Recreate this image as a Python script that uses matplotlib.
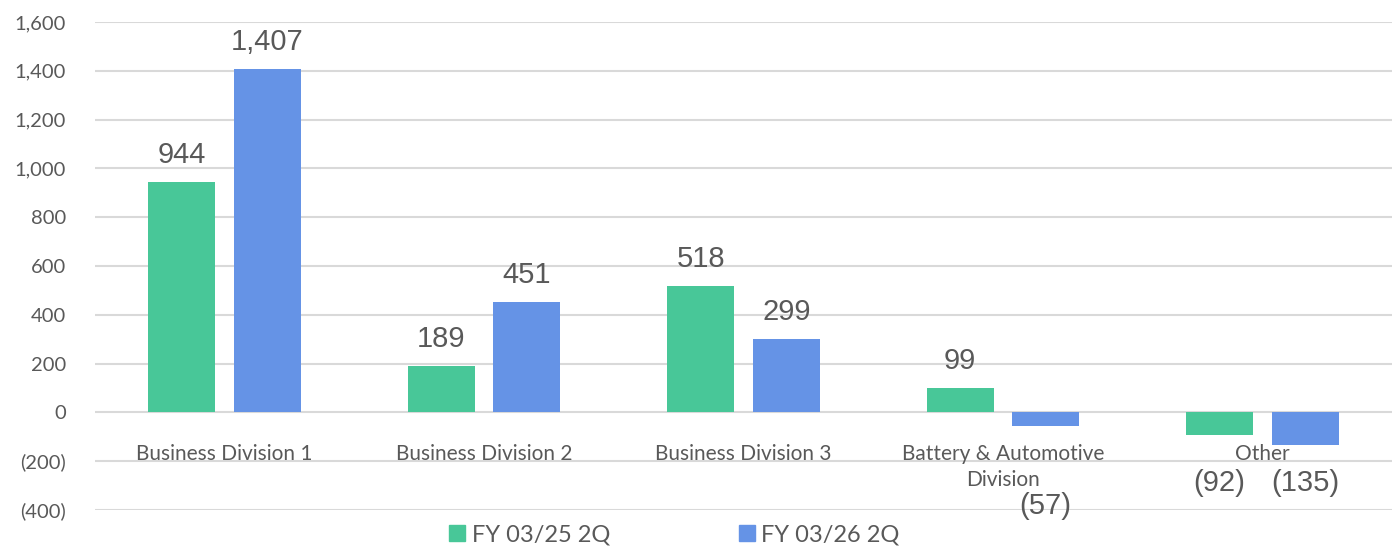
"""Segment profit by division, FY 03/25 2Q vs FY 03/26 2Q."""

import matplotlib
matplotlib.use("Agg")
import matplotlib.pyplot as plt
import numpy as np
from matplotlib.lines import Line2D

categories = ["Business Division 1", "Business Division 2", "Business Division 3",
              "Battery & Automotive\nDivision", "Other"]
fy25 = [944, 189, 518, 99, -92]
fy26 = [1407, 451, 299, -57, -135]
series_names = ["FY 03/25 2Q", "FY 03/26 2Q"]
y_ticks = [-400, -200, 0, 200, 400, 600, 800, 1000, 1200, 1400, 1600]

GREEN = "#48C798"
BLUE = "#6593E6"
GRID = "#D9D9D9"
TEXT = "#595959"


def fmt(v):
    return f"({abs(v):,})" if v < 0 else f"{v:,}"


fig = plt.figure(figsize=(13.92, 5.5), dpi=100)
ax = fig.add_axes([95 / 1392, 40 / 550, 1 - 95 / 1392, 488 / 550])

x = np.arange(len(categories))
width = 0.258
off = 0.165
ax.bar(x - off, fy25, width, color=GREEN, zorder=3)
ax.bar(x + off, fy26, width, color=BLUE, zorder=3)

ax.set_xlim(-0.5, len(categories) - 0.5)
ax.set_ylim(-400, 1600)
ax.set_yticks(y_ticks)
ax.set_yticklabels([fmt(t) for t in y_ticks], family="Lato", fontsize=14.5, color=TEXT)
ax.tick_params(axis="y", length=0, pad=21)
ax.set_xticks([])
for t in y_ticks:
    ax.axhline(t, color=GRID, lw=1.5, zorder=1)
for s in ax.spines.values():
    s.set_visible(False)

# category names sit just under the zero line
for xi, name in zip(x, categories):
    ax.text(xi, -128, name, ha="center", va="top", family="Lato", fontsize=15,
            color=TEXT, linespacing=1.4, zorder=4)

# value labels
neg_y = {3: -385, 4: -288}
for xi, (a, b) in enumerate(zip(fy25, fy26)):
    for v, dx in ((a, -off), (b, off)):
        if v >= 0:
            ax.annotate(fmt(v), (xi + dx, v), xytext=(0, 27), textcoords="offset pixels",
                        ha="center", va="center", family="Liberation Sans",
                        fontsize=21, color=TEXT, zorder=4)
        else:
            ax.text(xi + dx, neg_y[xi], fmt(v), ha="center", va="center",
                    family="Liberation Sans", fontsize=21, color=TEXT, zorder=4)

handles = [Line2D([], [], marker="s", ls="none", markersize=12, color=c)
           for c in (GREEN, BLUE)]
fig.legend(handles, series_names, loc="center", bbox_to_anchor=(0.484, 0.027),
           ncol=2, frameon=False, prop={"family": "Lato", "size": 17},
           labelcolor=TEXT, handletextpad=0.2, columnspacing=5.4, handlelength=0.8)

fig.savefig("out.png", dpi=100)
